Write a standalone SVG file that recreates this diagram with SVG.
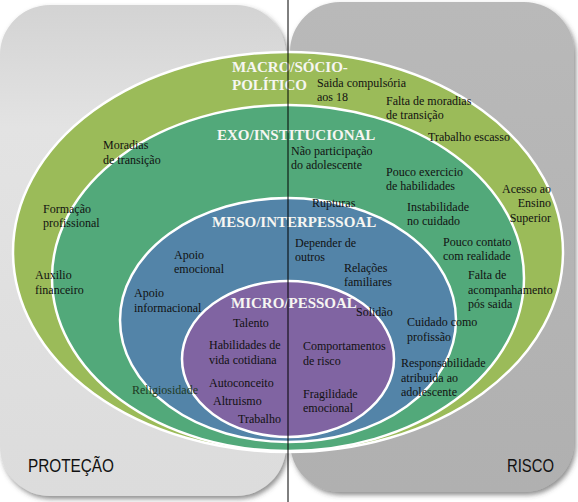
<svg xmlns="http://www.w3.org/2000/svg" width="578" height="502" viewBox="0 0 578 502">
<defs>
<linearGradient id="gL" x1="0" y1="0" x2="0" y2="1">
<stop offset="0" stop-color="#d3d3d3"/>
<stop offset="0.25" stop-color="#e3e3e3"/>
<stop offset="1" stop-color="#dcdcdc"/>
</linearGradient>
<linearGradient id="gR" x1="0" y1="0" x2="0" y2="1">
<stop offset="0" stop-color="#b9b9b9"/>
<stop offset="1" stop-color="#b0b0b0"/>
</linearGradient>
<filter id="sh" x="-10%" y="-10%" width="120%" height="120%">
<feDropShadow dx="2" dy="3" stdDeviation="2.5" flood-color="#444" flood-opacity="0.6"/>
</filter>
</defs>
<style>
.lbl{font-family:"Liberation Serif","Times New Roman",serif;font-size:12px;fill:#111}
.hdr{font-family:"Liberation Serif","Times New Roman",serif;font-size:15px;font-weight:bold;fill:#f6f6f2}
.side{font-family:"Liberation Sans",Arial,sans-serif;font-size:18px;fill:#111}
.ring{stroke:#ffffff;stroke-width:2.5}
</style>
<rect width="578" height="502" fill="#ffffff"/>
<g id="protecao">
<rect x="0" y="5" width="286" height="491" rx="50" ry="50" fill="url(#gL)" filter="url(#sh)"/>
<text class="side" x="28" y="472" textLength="86" lengthAdjust="spacingAndGlyphs">PROTEÇÃO</text>
</g>
<g id="risco">
<rect x="290" y="2" width="284" height="490" rx="50" ry="50" fill="url(#gR)" filter="url(#sh)"/>
<text class="side" x="507" y="472" textLength="47" lengthAdjust="spacingAndGlyphs">RISCO</text>
</g>
<g id="macro">
<ellipse class="ring" cx="288" cy="252" rx="275" ry="200" fill="#9bbb59"/>
<text class="hdr" x="232" y="72">MACRO/SÓCIO-</text>
<text class="hdr" x="232" y="90">POLÍTICO</text>
</g>
<g id="exo">
<ellipse class="ring" cx="288" cy="278" rx="236" ry="173" fill="#52a97a"/>
<text class="hdr" x="217" y="140">EXO/INSTITUCIONAL</text>
</g>
<g id="meso">
<ellipse class="ring" cx="288" cy="320" rx="168" ry="122" fill="#5384a8"/>
<text class="hdr" x="212" y="227">MESO/INTERPESSOAL</text>
</g>
<g id="micro">
<ellipse class="ring" cx="288" cy="359" rx="106" ry="78" fill="#8064a2"/>
<text class="hdr" x="231" y="308">MICRO/PESSOAL</text>
</g>
<g id="labels-protecao">
<text class="lbl" x="103" y="149">Moradias</text>
<text class="lbl" x="103" y="164">de transição</text>
<text class="lbl" x="43" y="213">Formação</text>
<text class="lbl" x="43" y="227">profissional</text>
<text class="lbl" x="35" y="279">Auxilio</text>
<text class="lbl" x="35" y="294">financeiro</text>
<text class="lbl" x="174" y="259">Apoio</text>
<text class="lbl" x="174" y="273">emocional</text>
<text class="lbl" x="134" y="297">Apoio</text>
<text class="lbl" x="134" y="312">informacional</text>
<text class="lbl" x="132" y="394" style="fill:#1f3a1f">Religiosidade</text>
<text class="lbl" x="233" y="327">Talento</text>
<text class="lbl" x="209" y="349">Habilidades de</text>
<text class="lbl" x="209" y="364">vida cotidiana</text>
<text class="lbl" x="209" y="387">Autoconceito</text>
<text class="lbl" x="213" y="405">Altruismo</text>
<text class="lbl" x="238" y="423">Trabalho</text>
</g>
<g id="labels-risco">
<text class="lbl" x="317" y="87">Saida compulsória</text>
<text class="lbl" x="317" y="101">aos 18</text>
<text class="lbl" x="386" y="105">Falta de moradias</text>
<text class="lbl" x="386" y="119">de transição</text>
<text class="lbl" x="428" y="141">Trabalho escasso</text>
<text class="lbl" x="291" y="155">Não participação</text>
<text class="lbl" x="291" y="169">do adolescente</text>
<text class="lbl" x="386" y="176">Pouco exercicio</text>
<text class="lbl" x="386" y="190">de habilidades</text>
<text class="lbl" x="551" y="193" text-anchor="end">Acesso ao</text>
<text class="lbl" x="551" y="207" text-anchor="end">Ensino</text>
<text class="lbl" x="551" y="222" text-anchor="end">Superior</text>
<text class="lbl" x="312" y="207">Rupturas</text>
<text class="lbl" x="407" y="211">Instabilidade</text>
<text class="lbl" x="407" y="225">no cuidado</text>
<text class="lbl" x="295" y="247">Depender de</text>
<text class="lbl" x="295" y="261">outros</text>
<text class="lbl" x="443" y="246">Pouco contato</text>
<text class="lbl" x="443" y="260">com realidade</text>
<text class="lbl" x="344" y="272">Relações</text>
<text class="lbl" x="344" y="286">familiares</text>
<text class="lbl" x="468" y="279">Falta de</text>
<text class="lbl" x="468" y="294">acompanhamento</text>
<text class="lbl" x="468" y="308">pós saida</text>
<text class="lbl" x="356" y="316">Solidão</text>
<text class="lbl" x="407" y="326">Cuidado como</text>
<text class="lbl" x="407" y="341">profissão</text>
<text class="lbl" x="303" y="350">Comportamentos</text>
<text class="lbl" x="303" y="365">de risco</text>
<text class="lbl" x="401" y="367">Responsabilidade</text>
<text class="lbl" x="401" y="382">atribuida ao</text>
<text class="lbl" x="401" y="396">adolescente</text>
<text class="lbl" x="303" y="398">Fragilidade</text>
<text class="lbl" x="303" y="412">emocional</text>
</g>
<g id="connectors">
<line x1="288" y1="0" x2="288" y2="502" stroke="#000" stroke-width="1"/>
</g>
</svg>
